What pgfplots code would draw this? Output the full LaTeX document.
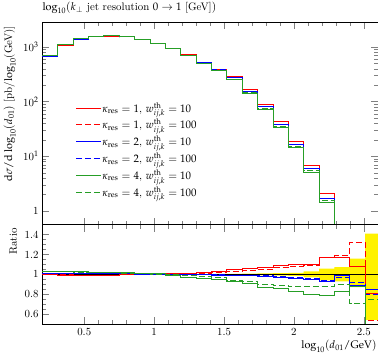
\documentclass[11pt,border=0pt]{standalone}
\usepackage[osf]{mathpazo}
\usepackage{pgfplots}
\usepackage{pgfplotstable}
\pgfplotsset{compat=1.18}
\definecolor{cr}{rgb}{1,0,0}
\definecolor{cb}{rgb}{0,0,1}
\definecolor{cg}{rgb}{0.15,0.62,0.15}
% stroke colour written straight into the page stream as well
\tikzset{rawstroke/.code={\special{pdf:literal direct #1 RG}}}

% main histograms: left bin edge, one column per setup
\pgfplotstableread{
x    r     rd    b     bd    g     gd
0.20 675   675   678   682   695   692
0.31 1089  1095  1106  1111  1133  1128
0.42 1379  1379  1407  1407  1435  1428
0.53 1542  1549  1573  1573  1596  1596
0.64 1589  1589  1613  1613  1637  1629
0.75 1532  1532  1548  1548  1563  1555
0.86 1380  1380  1380  1387  1387  1387
0.97 1150  1150  1150  1150  1156  1150
1.08 950   945   945   945   931   940
1.19 722   719   715   715   694   708
1.30 525   520   512   512   494   507
1.41 397   393   381   383   366   372
1.52 287   283   272   272   256   259
1.63 167   164   156   156   144   146
1.74 88.4  87.2  81.3  81.8  72.2  74.7
1.85 43.6  42.8  38.8  39.0  34.2  35.6
1.96 18.9  18.6  16.4  16.6  14.3  15.1
2.07 6.93  6.87  5.99  6.05  5.04  5.54
2.18 2.10  2.11  1.67  1.69  1.42  1.58
2.29 0.53  0.54  0.45  0.44  0.37  0.41
2.40 0.097 0.119 0.080 0.083 0.079 0.064
2.51 0.012 0.008 0.013 0.012 0.006 0.011
2.62 0.012 0.008 0.013 0.012 0.006 0.011
}\maintab

% ratios to the reference
\pgfplotstableread{
x    r     rd    b     bd    g     gd
0.20 1.00  1.00  1.005 1.01  1.03  1.025
0.31 0.99  0.995 1.005 1.01  1.03  1.025
0.42 0.985 0.985 1.005 1.005 1.025 1.02
0.53 0.985 0.99  1.005 1.005 1.02  1.02
0.64 0.99  0.99  1.005 1.005 1.02  1.015
0.75 0.995 0.995 1.005 1.005 1.015 1.01
0.86 1.00  1.00  1.00  1.005 1.005 1.005
0.97 1.00  1.00  1.00  1.00  1.005 1.00
1.08 1.005 1.00  1.00  1.00  0.985 0.995
1.19 1.01  1.005 1.00  1.00  0.97  0.99
1.30 1.02  1.01  0.995 0.995 0.96  0.98
1.41 1.03  1.02  0.99  0.995 0.95  0.965
1.52 1.045 1.03  0.99  0.99  0.93  0.94
1.63 1.055 1.04  0.985 0.99  0.91  0.925
1.74 1.065 1.05  0.98  0.985 0.87  0.90
1.85 1.09  1.07  0.97  0.975 0.855 0.89
1.96 1.10  1.08  0.955 0.965 0.83  0.875
2.07 1.10  1.09  0.95  0.96  0.80  0.88
2.18 1.165 1.17  0.93  0.94  0.79  0.88
2.29 1.175 1.19  0.99  0.97  0.83  0.90
2.40 1.075 1.32  0.89  0.92  0.88  0.71
2.51 0.81  0.54  0.85  0.80  0.40  0.75
2.62 0.81  0.54  0.85  0.80  0.40  0.75
}\ratiotab

% reference uncertainty band: upper edge left to right, lower edge back
\pgfplotstableread{
x    y
0.20 1.004
1.52 1.005
1.63 1.007
1.74 1.010
1.85 1.013
1.96 1.015
2.07 1.030
2.18 1.057
2.29 1.073
2.40 1.157
2.51 1.410
2.62 1.410
2.62 0.540
2.51 0.870
2.40 0.930
2.29 0.940
2.18 0.970
2.07 0.985
1.96 0.987
1.85 0.990
1.74 0.993
1.63 0.995
1.52 0.996
0.20 0.996
}\bandtab

\begin{document}
\begin{tikzpicture}
\pgfplotsset{
  every axis/.append style={
    scale only axis, width=338pt,
    xmin=0.2, xmax=2.6,
    tick align=inside,
    major tick length=7pt, minor tick length=4pt,
    /pgf/number format/assume math mode=true,
    every tick/.append style={line width=0.4pt},
  },
  sr/.style={const plot, line width=0.9pt, color=cr, rawstroke={1 0 0}},
  sb/.style={const plot, line width=0.9pt, color=cb, rawstroke={0 0 1}},
  sg/.style={const plot, line width=0.9pt, color=cg, rawstroke={0.15 0.62 0.15}},
  dsh/.style={dash pattern=on 6pt off 3pt},
}
\begin{axis}[
  name=main,
  height=204pt,
  ymode=log, ymin=0.56, ymax=2850,
  xtick={0.5,1,1.5,2,2.5}, minor x tick num=4, xticklabels={},
  ytick={1,10,100,1000}, yticklabels={1,10$^{1}$,10$^{2}$,10$^{3}$},
  title={$\log_{10}(k_\perp$ jet resolution $0\rightarrow 1$ [GeV]$)$},
  title style={at={(0,1)}, anchor=south west, inner sep=2pt, xshift=-2pt},
  ylabel={$\mathrm{d}\sigma/\mathrm{d}\log_{10}(d_{01})$ [pb/$\log_{10}$(GeV)]},
  ylabel style={at={(ticklabel cs:1)}, anchor=south east},
  legend style={at={(0.09,0.62)}, anchor=north west, draw=none, fill=none,
    row sep=3.5pt, nodes={inner sep=1pt}},
  legend cell align=left,
  legend image code/.code={\draw[#1] (0pt,0pt) -- (25pt,0pt);},
]
\addplot[sr] table[x=x, y=r] {\maintab};
\addlegendentry{$\kappa_{\mathrm{res}}=1$, $w^{\mathrm{th}}_{ij,k}=10$}
\addplot[sr, dsh] table[x=x, y=rd] {\maintab};
\addlegendentry{$\kappa_{\mathrm{res}}=1$, $w^{\mathrm{th}}_{ij,k}=100$}
\addplot[sb] table[x=x, y=b] {\maintab};
\addlegendentry{$\kappa_{\mathrm{res}}=2$, $w^{\mathrm{th}}_{ij,k}=10$}
\addplot[sb, dsh] table[x=x, y=bd] {\maintab};
\addlegendentry{$\kappa_{\mathrm{res}}=2$, $w^{\mathrm{th}}_{ij,k}=100$}
\addplot[sg] table[x=x, y=g] {\maintab};
\addlegendentry{$\kappa_{\mathrm{res}}=4$, $w^{\mathrm{th}}_{ij,k}=10$}
\addplot[sg, dsh] table[x=x, y=gd] {\maintab};
\addlegendentry{$\kappa_{\mathrm{res}}=4$, $w^{\mathrm{th}}_{ij,k}=100$}
\end{axis}

\begin{axis}[
  at={(main.south west)}, anchor=north west,
  height=100pt,
  ymin=0.5, ymax=1.5,
  xtick={0.5,1,1.5,2,2.5}, minor x tick num=4,
  ytick={0.6,0.8,1,1.2,1.4}, minor y tick num=3,
  ylabel={Ratio},
  ylabel style={at={(ticklabel cs:1)}, anchor=south east},
  xlabel={$\log_{10}(d_{01}/\mathrm{GeV})$},
  xlabel style={at={(ticklabel cs:1)}, anchor=north east, inner sep=1pt},
]
\addplot[const plot, fill=yellow, draw=none, forget plot] table[x=x, y=y] {\bandtab};
\addplot[black, line width=0.6pt] coordinates {(0.2,1) (2.62,1)};
\addplot[sr] table[x=x, y=r] {\ratiotab};
\addplot[sr, dsh] table[x=x, y=rd] {\ratiotab};
\addplot[sb] table[x=x, y=b] {\ratiotab};
\addplot[sb, dsh] table[x=x, y=bd] {\ratiotab};
\addplot[sg] table[x=x, y=g] {\ratiotab};
\addplot[sg, dsh] table[x=x, y=gd] {\ratiotab};
\end{axis}
\end{tikzpicture}
\end{document}
